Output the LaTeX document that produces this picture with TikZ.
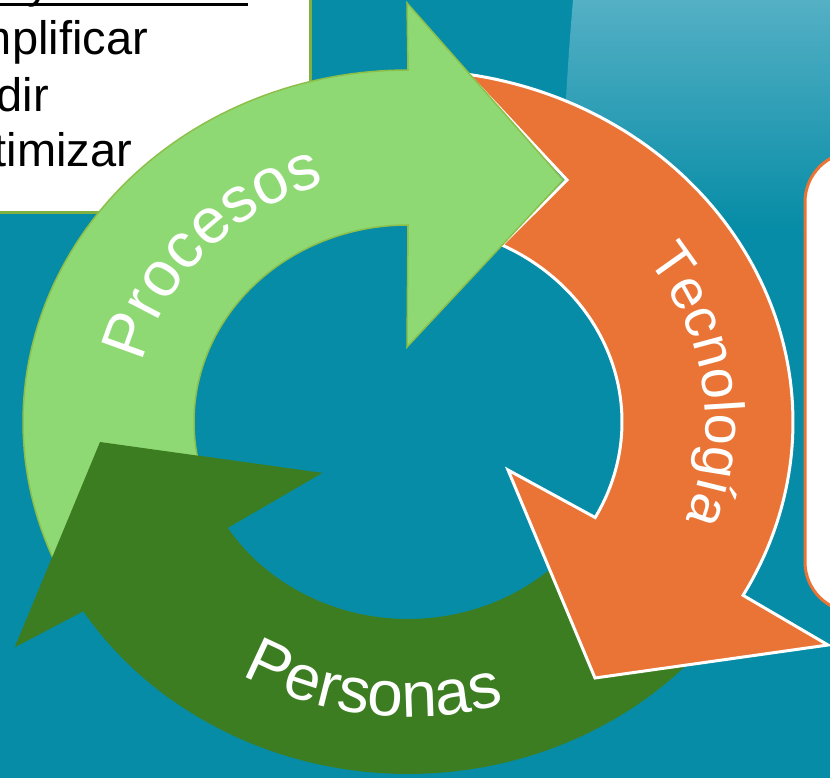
\documentclass[tikz,border=0pt]{standalone}
\usepackage{fontspec}
\setmainfont{Liberation Sans}
\usetikzlibrary{decorations.text}
\definecolor{bgteal}{RGB}{6,140,166}
\definecolor{bglight}{RGB}{84,176,197}
\definecolor{lgreen}{RGB}{143,217,117}
\definecolor{lgreenline}{RGB}{140,192,72}
\definecolor{dgreen}{RGB}{61,125,34}
\definecolor{orng}{RGB}{233,116,54}
\definecolor{boxline}{RGB}{128,176,64}
\tikzset{
  bodytext/.style={font=\fontsize{47}{47}\selectfont, inner sep=0pt, text=black},
  arrowlabel/.style 2 args={decorate, decoration={text along path, text align=center,
      text={|\fontsize{#1}{#1}\selectfont\color{white}|#2}}},
}
\begin{document}
\begin{tikzpicture}[x=1pt,y=-1pt]
\useasboundingbox (0,0) rectangle (830,778);
\clip (0,0) rectangle (830,778);
% background
\fill[bgteal] (0,0) rectangle (830,778);
\shade[top color=bglight, bottom color=bgteal] (573,0) .. controls (567,70) and (563,140) .. (561,230) -- (830,230) -- (830,0) -- cycle;
% top-left text box
\draw[boxline, line width=3, fill=white] (-10,-10) rectangle (310,213);
\node[bodytext, anchor=base] (hy) at (39,-2) {y};
\coordinate (ul1) at (0,5);
\coordinate (ul2) at (248,5);
\draw[line width=3] (ul1) -- (ul2);
\node[bodytext, anchor=base west] (t1) at (-69,55) {Simplificar};
\node[bodytext, anchor=base west] (t2) at (-69,112) {Medir};
\node[bodytext, anchor=base west] (t3) at (-69,167) {Optimizar};
% right box
\draw[orng, line width=3, fill=white, rounded corners=50] (805,152) rectangle (900,612);
% Personas (dark green)
\fill[dgreen] plot[domain=35:147.5, samples=60, variable=\t] ({408+385*cos(\t)},{422+352*sin(\t)})
  -- (15,647) -- (100,442) -- (322,473)
  -- plot[domain=147.5:35, samples=60, variable=\t] ({408+214*cos(\t)},{422+197*sin(\t)}) -- cycle;
% Tecnologia (orange)
\filldraw[fill=orng, draw=white, line width=3, line join=miter]
  plot[domain=-81:29.5, samples=80, variable=\t] ({408+385*cos(\t)},{422+352*sin(\t)})
  -- (828,645) -- (595,678) -- (508,470)
  -- plot[domain=29:-64, samples=80, variable=\t] ({408+214*cos(\t)},{422+197*sin(\t)})
  -- (567,180) -- cycle;
% Procesos (light green)
\filldraw[fill=lgreen, draw=lgreenline, line width=1.5]
  plot[domain=155:270, samples=80, variable=\t] ({408+385*cos(\t)},{422+352*sin(\t)})
  -- (407,3) -- (563,180) -- (407,347)
  -- plot[domain=270:155, samples=80, variable=\t] ({408+214*cos(\t)},{422+197*sin(\t)}) -- cycle;
% Personas head over Procesos tail
\begin{scope}
\clip (0,400) rectangle (340,700);
\fill[dgreen] plot[domain=35:147.5, samples=60, variable=\t] ({408+385*cos(\t)},{422+352*sin(\t)})
  -- (15,647) -- (100,442) -- (322,473)
  -- plot[domain=147.5:35, samples=60, variable=\t] ({408+214*cos(\t)},{422+197*sin(\t)}) -- cycle;
\end{scope}
% labels
\path[arrowlabel={64}{Procesos}] plot[domain=171:273, samples=100, variable=\t] ({408+273.5*cos(\t)},{422+250*sin(\t)});
\path[arrowlabel={56}{Tecnología}] plot[domain=-60:45, samples=100, variable=\t] ({408+297.6*cos(\t)},{422+272*sin(\t)});
\path[arrowlabel={64}{Personas}] plot[domain=142:52, samples=100, variable=\t] ({408+322.7*cos(\t)},{422+295*sin(\t)});
\end{tikzpicture}
\end{document}
